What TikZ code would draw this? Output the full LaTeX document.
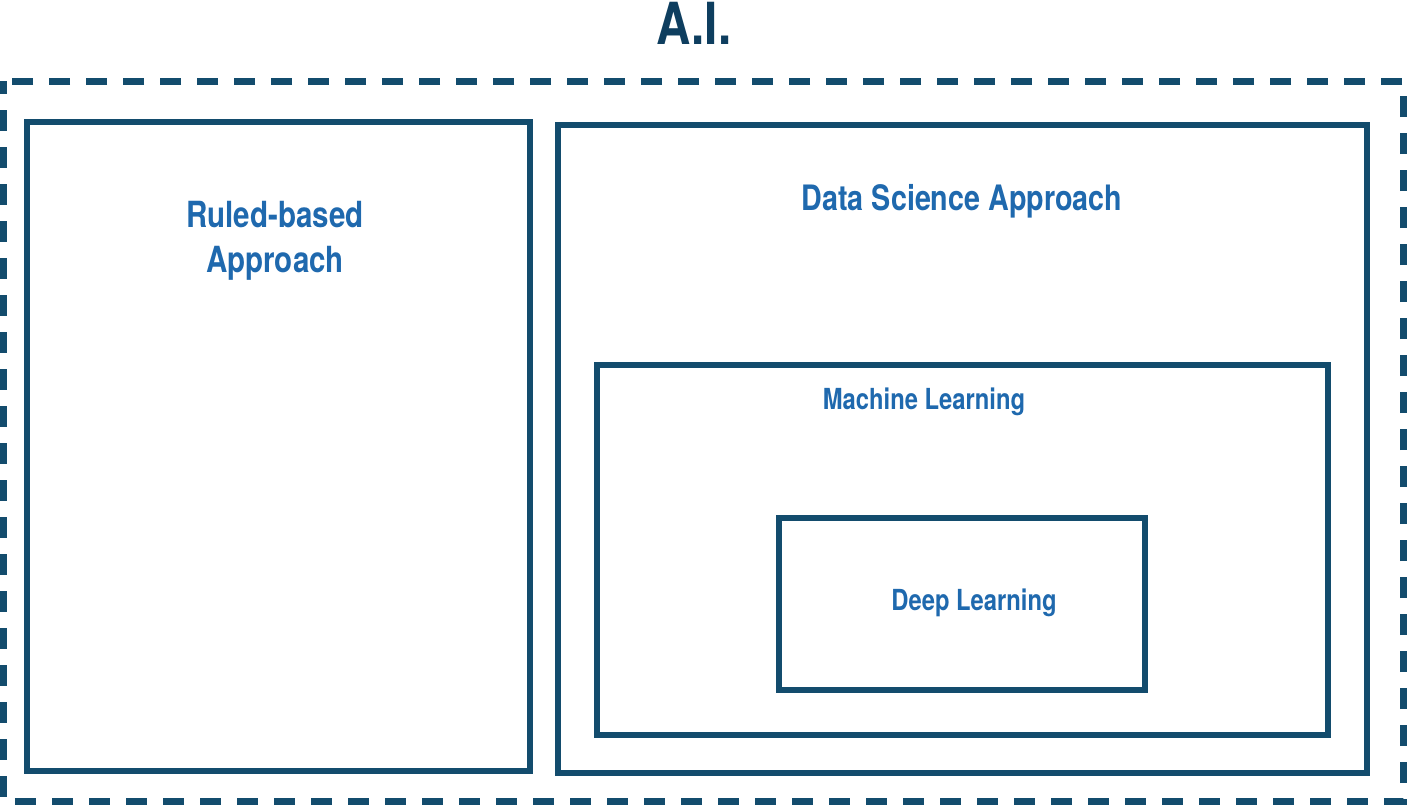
\documentclass[tikz,border=0pt]{standalone}
\usepackage{fontspec}
\setmainfont{TeX Gyre Heros}[FakeStretch=0.82]
\usepackage{tikz}
\definecolor{navy}{HTML}{0E3E5F}
\definecolor{frame}{HTML}{134C6D}
\definecolor{labelblue}{HTML}{1F69AE}
\tikzset{
  font={\bfseries},
  box/.style={draw=frame, line width=3pt},
  boxlabel/.style={text=labelblue, align=center, inner sep=0pt}}

\begin{document}
\begin{tikzpicture}[x=0.5pt, y=-0.5pt]
\useasboundingbox (0,0) rectangle (1409,804);
%% outer dashed frame
    \draw[draw=frame, line width=3.5pt, dash pattern=on 10.5pt off 8pt, dash phase=4pt] (3,81) rectangle (1403,801);
%% the boxes
    \draw[box] (27,122) rectangle (530,771);
    \draw[box] (558,125) rectangle (1367,773);
    \draw[box] (597,365) rectangle (1328,735);
    \draw[box] (779,518) rectangle (1145,690);
%% labels
    \node[text=navy, inner sep=0pt, font={\fontsize{29pt}{33pt}\bfseries\selectfont}] (ai) at (694,23) {A.I.};
    \node[boxlabel, font={\fontsize{18pt}{22.5pt}\bfseries\selectfont}] (rules) at (275,241) {Ruled-based\\Approach};
    \node[boxlabel, font={\fontsize{17.5pt}{21pt}\bfseries\selectfont}] (datasci) at (962,201) {Data Science Approach};
    \node[boxlabel, font={\fontsize{14.5pt}{17pt}\bfseries\selectfont}] (ml) at (924,402) {Machine Learning};
    \node[boxlabel, font={\fontsize{14.5pt}{17pt}\bfseries\selectfont}] (dl) at (974,603) {Deep Learning};
\end{tikzpicture}
\end{document}
